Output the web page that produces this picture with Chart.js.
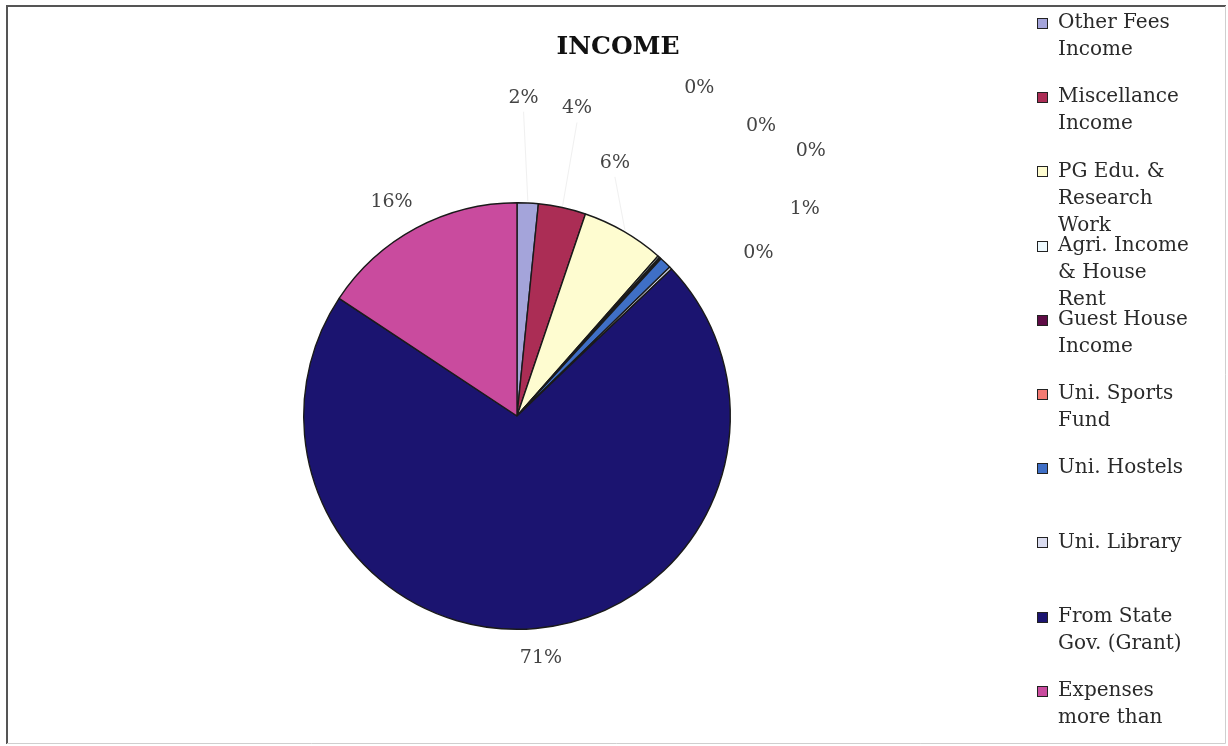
<!DOCTYPE html>
<html>
<head>
<meta charset="utf-8">
<title>Income</title>
<script src="https://cdn.jsdelivr.net/npm/chart.js@4.4.0/dist/chart.umd.min.js"></script>
<style>
    html, body { margin: 0; padding: 0; background: #fff; }
    #wrap { width: 1228px; height: 746px; }
</style>
</head>
<body>
<div id="wrap"><canvas id="income-chart" width="1228" height="746"></canvas></div>
<script>
// slice names (split the way the legend wraps them)
const categories = [
    ['Other Fees', 'Income'],
    ['Miscellance', 'Income'],
    ['PG Edu. &', 'Research', 'Work'],
    ['Agri. Income', '& House', 'Rent'],
    ['Guest House', 'Income'],
    ['Uni. Sports', 'Fund'],
    ['Uni. Hostels'],
    ['Uni. Library'],
    ['From State', 'Gov. (Grant)'],
    ['Expenses', 'more than']
];

// share of income, percent
const shares = [1.6, 3.6, 6.3, 0.15, 0.05, 0.1, 0.9, 0.2, 71.4, 15.7];

const sliceColors = [
    '#a4a4da', '#ab2d55', '#fefcd0', '#eefaff', '#5e0b45',
    '#f37a72', '#3f6fc6', '#dadcf0', '#1b1470', '#c94b9e'
];

// where each % label sits: [turn from slice middle (deg), distance past the rim (px)]
const labelNudge = [
    [-1.7, 105], [-1.2, 100], [-8.9, 58], [-12.6, 162], [-2.0, 166],
    [5.7, 182], [10.2, 141], [9.9, 78], [-0.6, 30], [-2.1, 35]
];

const TEXT_FONT = '"DejaVu Serif", "Liberation Serif", serif';

const incomeDecor = {
    id: 'incomeDecor',

    beforeDraw(chart) {
        const ctx = chart.ctx;
        ctx.save();
        ctx.fillStyle = '#fff';
        ctx.fillRect(0, 0, chart.width, chart.height);
        ctx.restore();
    },

    afterDatasetsDraw(chart) {
        const ctx = chart.ctx;
        const arcs = chart.getDatasetMeta(0).data;
        const total = shares.reduce((a, b) => a + b, 0);

        ctx.save();
        ctx.font = '19px ' + TEXT_FONT;
        ctx.textAlign = 'center';
        ctx.textBaseline = 'middle';

        arcs.forEach((arc, i) => {
            const p = arc.getProps(['x', 'y', 'startAngle', 'endAngle', 'outerRadius'], true);
            const mid = (p.startAngle + p.endAngle) / 2;
            const ang = mid + labelNudge[i][0] * Math.PI / 180;
            const dist = p.outerRadius + labelNudge[i][1];
            const lx = p.x + Math.cos(ang) * dist;
            const ly = p.y + Math.sin(ang) * dist;

            // faint leader line, only the top slices show one
            if (i < 3) {
                const ex = p.x + Math.cos(mid) * (p.outerRadius + 2);
                const ey = p.y + Math.sin(mid) * (p.outerRadius + 2);
                ctx.strokeStyle = '#f0f0f0';
                ctx.lineWidth = 1;
                ctx.beginPath();
                ctx.moveTo(ex, ey);
                ctx.lineTo(lx, ly + 14);
                ctx.stroke();
            }

            ctx.fillStyle = '#444';
            ctx.fillText(Math.round(shares[i] / total * 100) + '%', lx, ly);
        });
        ctx.restore();
    },

    afterDraw(chart) {
        const ctx = chart.ctx;
        ctx.save();

        // title
        ctx.fillStyle = '#111';
        ctx.font = 'bold 25px ' + TEXT_FONT;
        ctx.textAlign = 'center';
        ctx.textBaseline = 'middle';
        ctx.fillText('INCOME', 618, 47);

        // legend
        const legendTop = 23;
        const legendStep = 74.2;
        const lineGap = 27;
        ctx.font = '20px ' + TEXT_FONT;
        ctx.textAlign = 'left';
        categories.forEach((lines, i) => {
            const y = legendTop + i * legendStep;
            ctx.fillStyle = sliceColors[i];
            ctx.fillRect(1037, Math.round(y - 5), 10, 10);
            ctx.strokeStyle = '#222';
            ctx.lineWidth = 1;
            ctx.strokeRect(1037.5, Math.round(y - 5) + 0.5, 10, 10);
            ctx.fillStyle = '#2a2a2a';
            lines.forEach((t, k) => ctx.fillText(t, 1058, y + k * lineGap));
        });

        // frame
        ctx.strokeStyle = '#555';
        ctx.lineWidth = 2;
        ctx.beginPath();
        ctx.moveTo(7, 744);
        ctx.lineTo(7, 6);
        ctx.lineTo(1226, 6);
        ctx.stroke();
        ctx.strokeStyle = '#cfcfcf';
        ctx.lineWidth = 1;
        ctx.beginPath();
        ctx.moveTo(7, 743.5);
        ctx.lineTo(1225.5, 743.5);
        ctx.lineTo(1225.5, 6);
        ctx.stroke();
        ctx.restore();
    }
};

new Chart(document.getElementById('income-chart'), {
    type: 'pie',
    data: {
        labels: categories,
        datasets: [{
            data: shares,
            backgroundColor: sliceColors,
            borderColor: '#1a1a1a',
            borderWidth: 1.4
        }]
    },
    options: {
        responsive: false,
        animation: false,
        layout: {
            padding: { left: 303, right: 497, top: 202, bottom: 116 }
        },
        plugins: {
            legend: { display: false },
            title: { display: false },
            tooltip: { enabled: false }
        }
    },
    plugins: [incomeDecor]
});
</script>
</body>
</html>
